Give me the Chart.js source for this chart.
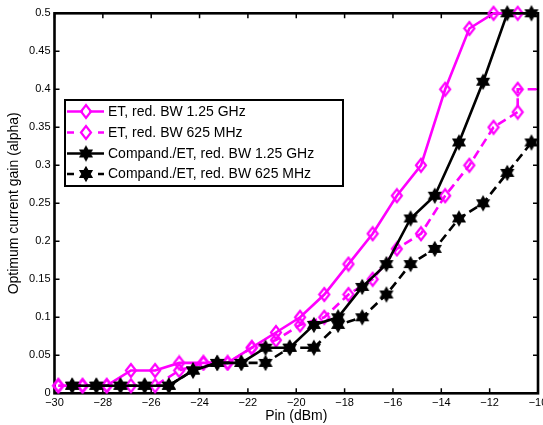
<!DOCTYPE html>
<html>
<head>
<meta charset="utf-8">
<script src="https://cdn.jsdelivr.net/npm/chart.js@4.4.0/dist/chart.umd.min.js"></script>
<style>
  html, body { margin: 0; padding: 0; background: #fff; }
  #wrap { width: 543px; height: 425px; }
</style>
</head>
<body>
<div id="wrap"><canvas id="gainChart" width="543" height="425"></canvas></div>
<script>
  // Pin sweep points (dBm)
  const pinET = [-29.84, -28.84, -27.84, -26.84, -25.84, -24.84, -23.84, -22.84, -21.84, -20.84,
                 -19.84, -18.84, -17.84, -16.84, -15.84, -14.84, -13.84, -12.84, -11.84, -10.84];
  const pinET625 = [-29.84, -28.84, -27.84, -26.84, -25.84, -24.84, -23.84, -22.84, -21.84, -20.84,
                    -19.84, -18.84, -17.84, -16.84, -15.84, -14.84, -13.84, -12.84, -11.84, -10.84,
                    -10.84, -9.84];
  const pinComp = [-29.27, -28.27, -27.27, -26.27, -25.27, -24.27, -23.27, -22.27, -21.27, -20.27,
                   -19.27, -18.27, -17.27, -16.27, -15.27, -14.27, -13.27, -12.27, -11.27, -10.27];

  // optimum current gain (alpha)
  const et125 = [0.01, 0.01, 0.01, 0.03, 0.03, 0.04, 0.04, 0.04, 0.06, 0.08,
                 0.10, 0.13, 0.17, 0.21, 0.26, 0.30, 0.40, 0.48, 0.50, 0.50];
  const et625 = [0.01, 0.01, 0.01, 0.01, 0.01, 0.03, 0.04, 0.04, 0.06, 0.07,
                 0.09, 0.10, 0.13, 0.15, 0.19, 0.21, 0.26, 0.30, 0.35, 0.37,
                 0.40, 0.40];
  const comp125 = [0.01, 0.01, 0.01, 0.01, 0.01, 0.03, 0.04, 0.04, 0.06, 0.06,
                   0.09, 0.10, 0.14, 0.17, 0.23, 0.26, 0.33, 0.41, 0.50, 0.50];
  const comp625 = [0.01, 0.01, 0.01, 0.01, 0.01, 0.03, 0.04, 0.04, 0.04, 0.06,
                   0.06, 0.09, 0.10, 0.13, 0.17, 0.19, 0.23, 0.25, 0.29, 0.33];

  const seriesNames = [
    "ET, red. BW 1.25 GHz",
    "ET, red. BW 625 MHz",
    "Compand./ET, red. BW 1.25 GHz",
    "Compand./ET, red. BW 625 MHz"
  ];

  const xMin = -30, xMax = -10, xStep = 2;
  const yMin = 0, yMax = 0.5, yStep = 0.05;

  const FONT = '"Liberation Sans", Arial, Helvetica, sans-serif';
  const MAGENTA = "#ff00ff";
  const DASH = [9, 5];

  Chart.defaults.font.family = FONT;
  Chart.defaults.color = "#000";

  // filled hexagram marker like matlab's 'h'
  function makeStar(r) {
    var c = document.createElement("canvas");
    var s = 2 * r + 4;
    c.width = s; c.height = s;
    var g = c.getContext("2d");
    g.translate(s / 2, s / 2);
    g.beginPath();
    for (var i = 0; i < 12; i++) {
      var a = -Math.PI / 2 + i * Math.PI / 6;
      var rr = i % 2 ? r * 0.58 : r;
      g.lineTo(rr * Math.cos(a), rr * Math.sin(a));
    }
    g.closePath();
    g.fillStyle = "#000";
    g.fill();
    g.lineWidth = 1.2;
    g.strokeStyle = "#000";
    g.stroke();
    return c;
  }

  // hollow diamond, a bit taller than wide
  function makeDiamond(hw, hh) {
    var c = document.createElement("canvas");
    c.width = 2 * hw + 4; c.height = 2 * hh + 4;
    var g = c.getContext("2d");
    var cx = c.width / 2, cy = c.height / 2;
    g.beginPath();
    g.moveTo(cx - hw, cy); g.lineTo(cx, cy - hh);
    g.lineTo(cx + hw, cy); g.lineTo(cx, cy + hh);
    g.closePath();
    g.lineWidth = 2.2;
    g.strokeStyle = MAGENTA;
    g.stroke();
    return c;
  }
  var star = makeStar(7);
  var diamond = makeDiamond(5, 6.5);

  function pts(xs, ys) {
    return xs.map(function (x, i) { return { x: x, y: ys[i] }; });
  }

  // box, inward ticks on all four sides
  var axesBox = {
    id: "axesBox",
    beforeDatasetsDraw(chart) {
      var ctx = chart.ctx, a = chart.chartArea;
      var sx = chart.scales.x, sy = chart.scales.y;
      ctx.save();
      ctx.strokeStyle = "#000";
      ctx.lineWidth = 1.5;
      ctx.beginPath();
      sx.ticks.forEach(function (t) {
        var px = sx.getPixelForValue(t.value);
        ctx.moveTo(px, a.bottom); ctx.lineTo(px, a.bottom - 5);
        ctx.moveTo(px, a.top); ctx.lineTo(px, a.top + 5);
      });
      sy.ticks.forEach(function (t) {
        var py = sy.getPixelForValue(t.value);
        ctx.moveTo(a.left, py); ctx.lineTo(a.left + 5, py);
        ctx.moveTo(a.right, py); ctx.lineTo(a.right - 5, py);
      });
      ctx.stroke();
      ctx.lineWidth = 2.6;
      ctx.strokeRect(a.left, a.top, a.right - a.left, a.bottom - a.top);
      ctx.restore();
    },
    afterDatasetsDraw(chart) {
      var ctx = chart.ctx;
      var bx = 65, by = 100, bw = 278, bh = 86;
      ctx.save();
      ctx.fillStyle = "#fff";
      ctx.fillRect(bx, by, bw, bh);
      ctx.lineWidth = 2;
      ctx.strokeStyle = "#000";
      ctx.strokeRect(bx, by, bw, bh);
      var rows = [111.5, 132.5, 153.5, 174];
      chart.data.datasets.forEach(function (ds, i) {
        var y = rows[i];
        ctx.strokeStyle = ds.borderColor;
        ctx.lineWidth = 2.5;
        ctx.beginPath();
        if (ds.borderDash && ds.borderDash.length) {
          ctx.moveTo(67, y); ctx.lineTo(74, y);
          ctx.moveTo(98, y); ctx.lineTo(104, y);
        } else {
          ctx.moveTo(67, y); ctx.lineTo(104, y);
        }
        ctx.stroke();
        var m = ds.pointStyle;
        var mx = 86;
        if (m === diamond) {
          ctx.fillStyle = "#fff";
          ctx.fillRect(mx - 3, y - 4, 6, 8);
        }
        ctx.drawImage(m, mx - m.width / 2, y - m.height / 2);
        ctx.fillStyle = "#000";
        ctx.font = "14px " + FONT;
        ctx.textBaseline = "middle";
        ctx.textAlign = "left";
        ctx.fillText(ds.label, 108, y + 0.5);
      });
      ctx.restore();
    }
  };

  var ctx = document.getElementById("gainChart").getContext("2d");
  var chart = new Chart(ctx, {
    type: "line",
    data: {
      datasets: [
        {
          label: seriesNames[0],
          data: pts(pinET, et125),
          borderColor: MAGENTA,
          borderWidth: 2.6,
          pointStyle: diamond,
          pointRadius: 6,
          order: 3,
          clip: false
        },
        {
          label: seriesNames[1],
          data: pts(pinET625, et625),
          borderColor: MAGENTA,
          borderWidth: 2.6,
          borderDash: DASH,
          pointStyle: diamond,
          pointRadius: function (c) { return c.raw && c.raw.x > xMax ? 0 : 6; },
          order: 2,
          clip: { left: false, top: false, right: 0, bottom: false }
        },
        {
          label: seriesNames[2],
          data: pts(pinComp, comp125),
          borderColor: "#000",
          borderWidth: 2.6,
          pointStyle: star,
          pointRadius: 7,
          order: 1,
          clip: false
        },
        {
          label: seriesNames[3],
          data: pts(pinComp, comp625),
          borderColor: "#000",
          borderWidth: 2.6,
          borderDash: DASH,
          pointStyle: star,
          pointRadius: 7,
          order: 0,
          clip: false
        }
      ]
    },
    options: {
      responsive: false,
      animation: false,
      devicePixelRatio: 1,
      layout: { autoPadding: false, padding: { top: 13.3, right: 5, bottom: 0, left: 0 } },
      elements: { line: { tension: 0, fill: false } },
      plugins: { legend: { display: false }, tooltip: { enabled: false } },
      scales: {
        x: {
          type: "linear",
          min: xMin,
          max: xMax,
          grid: { display: false, drawTicks: false },
          border: { display: false },
          ticks: {
            stepSize: xStep,
            padding: 3,
            maxRotation: 0,
            autoSkip: false,
            font: { size: 11 },
            callback: function (v) { return String(v).replace("-", "\u2212"); }
          },
          title: { display: true, text: "Pin (dBm)", font: { size: 14 }, padding: { top: 0, bottom: 0 } },
          afterFit: function (s) { s.height = 31.7; s.paddingLeft = 0; s.paddingRight = 0; }
        },
        y: {
          min: yMin,
          max: yMax,
          grid: { display: false, drawTicks: false },
          border: { display: false },
          ticks: {
            stepSize: yStep,
            padding: 4,
            font: { size: 11 },
            callback: function (v) { return String(+v.toFixed(2)); }
          },
          title: { display: true, text: "Optimum current gain (alpha)", font: { size: 14 }, padding: { top: 6, bottom: 0 } },
          afterFit: function (s) { s.width = 54.5; s.paddingTop = 0; s.paddingBottom = 0; }
        }
      }
    },
    plugins: [axesBox]
  });
</script>
</body>
</html>
